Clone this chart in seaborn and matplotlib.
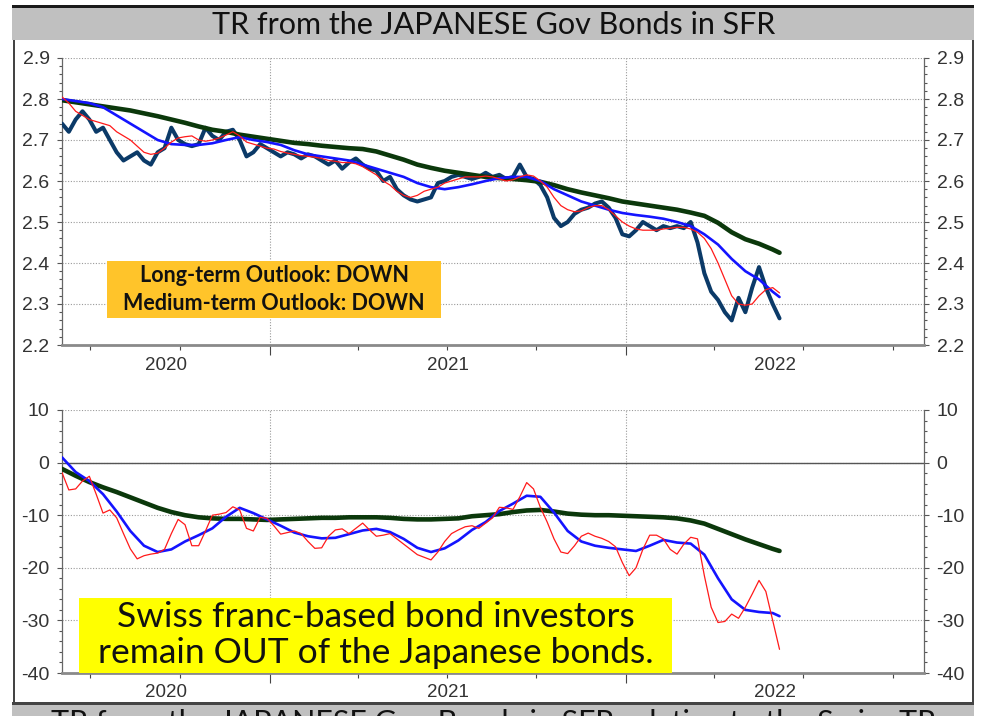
import matplotlib
matplotlib.use("Agg")
import matplotlib.pyplot as plt
import matplotlib.dates as mdates
from matplotlib.ticker import MultipleLocator, FormatStrFormatter, NullFormatter
from matplotlib.patches import Rectangle
import pandas as pd
import seaborn as sns

# ---------------------------------------------------------------- data
# weekly observation dates; the smoothed lines are sampled every second week
week_dates = pd.date_range("2020-06-02", periods=106, freq="7D")
smooth_idx = list(range(0, 106, 2)) + [105]
smooth_dates = week_dates[smooth_idx]

# total-return index of Japanese government bonds in CHF
tr_price = [
    2.74, 2.72, 2.75, 2.77, 2.75, 2.72, 2.73, 2.70, 2.67, 2.65,
    2.66, 2.67, 2.65, 2.64, 2.67, 2.68, 2.73, 2.70, 2.69, 2.685,
    2.69, 2.73, 2.71, 2.70, 2.72, 2.725, 2.70, 2.66, 2.67, 2.69,
    2.68, 2.67, 2.66, 2.67, 2.665, 2.655, 2.665, 2.66, 2.65, 2.64,
    2.65, 2.63, 2.645, 2.655, 2.64, 2.63, 2.625, 2.60, 2.61, 2.58,
    2.565, 2.555, 2.55, 2.555, 2.56, 2.595, 2.60, 2.61, 2.615, 2.61,
    2.605, 2.61, 2.62, 2.61, 2.615, 2.605, 2.61, 2.64, 2.61, 2.605,
    2.59, 2.56, 2.51, 2.49, 2.50, 2.52, 2.53, 2.535, 2.545, 2.55,
    2.535, 2.51, 2.47, 2.465, 2.48, 2.50, 2.49, 2.48, 2.49, 2.485,
    2.49, 2.485, 2.50, 2.45, 2.375, 2.33, 2.31, 2.28, 2.26, 2.315,
    2.28, 2.34, 2.39, 2.34, 2.30, 2.265,
]
tr_ma_short = [
    2.805, 2.79, 2.77, 2.76, 2.75, 2.745, 2.74, 2.735, 2.72, 2.71,
    2.70, 2.685, 2.67, 2.665, 2.668, 2.68, 2.695, 2.705, 2.708, 2.71,
    2.70, 2.697, 2.70, 2.705, 2.712, 2.72, 2.71, 2.695, 2.69, 2.685,
    2.68, 2.678, 2.672, 2.668, 2.665, 2.662, 2.66, 2.658, 2.655, 2.65,
    2.648, 2.645, 2.645, 2.642, 2.635, 2.625, 2.615, 2.60, 2.59, 2.575,
    2.565, 2.56, 2.565, 2.575, 2.58, 2.585, 2.595, 2.60, 2.605, 2.61,
    2.61, 2.61, 2.612, 2.61, 2.605, 2.60, 2.603, 2.61, 2.615, 2.612,
    2.60, 2.585, 2.56, 2.54, 2.53, 2.525, 2.527, 2.535, 2.54, 2.54,
    2.53, 2.515, 2.50, 2.49, 2.483, 2.48, 2.48, 2.48, 2.483, 2.485,
    2.487, 2.487, 2.483, 2.475, 2.46, 2.435, 2.40, 2.36, 2.32, 2.30,
    2.297, 2.30, 2.32, 2.335, 2.34, 2.327,
]
tr_ma_mid = [
    2.80, 2.795, 2.79, 2.78, 2.76, 2.74, 2.72, 2.70, 2.69, 2.688,
    2.688, 2.692, 2.70, 2.707, 2.70, 2.695, 2.688, 2.675, 2.665, 2.66,
    2.655, 2.65, 2.64, 2.63, 2.62, 2.61, 2.595, 2.585, 2.58, 2.585,
    2.592, 2.60, 2.607, 2.61, 2.61, 2.60, 2.58, 2.565, 2.55, 2.54,
    2.53, 2.522, 2.517, 2.513, 2.508, 2.50, 2.49, 2.47, 2.445, 2.41,
    2.38, 2.36, 2.33, 2.317,
]
tr_ma_long = [
    2.797, 2.792, 2.787, 2.782, 2.777, 2.772, 2.765, 2.758, 2.75, 2.742,
    2.733, 2.725, 2.72, 2.713, 2.708, 2.703, 2.698, 2.693, 2.69, 2.686,
    2.683, 2.68, 2.678, 2.672, 2.662, 2.652, 2.64, 2.632, 2.625, 2.62,
    2.615, 2.61, 2.607, 2.605, 2.602, 2.598, 2.59, 2.58, 2.572, 2.565,
    2.558, 2.55, 2.545, 2.54, 2.535, 2.53, 2.523, 2.515, 2.498, 2.475,
    2.458, 2.447, 2.433, 2.425,
]

# relative strength versus the Swiss bond total return
rel_short = [
    -1.9, -5.2, -5.0, -3.5, -2.6, -6.0, -9.6, -9.0, -10.5, -13.5,
    -16.4, -18.3, -17.7, -17.4, -17.2, -16.5, -13.5, -10.8, -11.8, -15.8,
    -15.8, -13.0, -10.0, -9.8, -9.5, -8.4, -9.0, -12.5, -13.0, -10.4,
    -10.6, -12.0, -13.6, -13.3, -13.0, -13.5, -15.0, -16.3, -16.2, -14.0,
    -12.8, -12.6, -13.5, -12.5, -11.5, -12.8, -14.0, -13.8, -13.5, -14.5,
    -15.5, -16.5, -17.5, -18.0, -18.5, -17.0, -15.0, -13.5, -12.8, -12.2,
    -12.0, -12.5, -11.5, -10.5, -8.5, -8.6, -8.9, -6.5, -3.8, -5.0,
    -8.5, -11.3, -14.5, -17.0, -17.3, -15.8, -14.0, -13.4, -14.0, -14.4,
    -15.0, -16.0, -19.0, -21.5, -20.0, -16.5, -13.8, -13.8, -14.5, -16.5,
    -17.4, -15.5, -14.2, -14.5, -21.5, -27.5, -30.4, -30.2, -28.8, -29.6,
    -27.5, -25.0, -22.4, -24.5, -30.0, -35.5,
]
rel_mid = [
    1.0, -1.8, -3.5, -6.0, -9.3, -13.0, -15.8, -17.0, -16.5, -15.0,
    -13.8, -12.5, -10.3, -8.6, -9.6, -10.8, -12.0, -13.3, -14.0, -14.4,
    -14.3, -13.6, -12.9, -12.6, -13.2, -14.5, -16.2, -17.0, -16.3, -14.8,
    -12.8, -11.3, -9.2, -7.8, -6.3, -6.5, -9.5, -13.0, -15.0, -15.8,
    -16.2, -16.5, -16.8, -15.8, -14.7, -15.2, -15.4, -17.5, -22.0, -26.0,
    -28.0, -28.4, -28.6, -29.2,
]
rel_long = [
    -1.2, -2.5, -3.7, -4.7, -5.6, -6.6, -7.6, -8.6, -9.4, -10.0,
    -10.4, -10.6, -10.7, -10.7, -10.8, -10.9, -10.8, -10.7, -10.6, -10.5,
    -10.5, -10.4, -10.4, -10.4, -10.5, -10.7, -10.8, -10.8, -10.7, -10.6,
    -10.2, -10.0, -9.8, -9.4, -9.1, -9.0, -9.3, -9.7, -9.9, -10.0,
    -10.0, -10.1, -10.2, -10.3, -10.4, -10.6, -11.0, -11.6, -12.6, -13.6,
    -14.6, -15.5, -16.4, -16.8,
]

title_top = "TR from the JAPANESE Gov Bonds in SFR"
title_bottom = "TR from the JAPANESE Gov Bonds in SFR relative to the Swiss TR"
outlook_text = "Long-term Outlook: DOWN\nMedium-term Outlook: DOWN"
verdict_text = "Swiss franc-based bond investors\nremain OUT of the Japanese bonds."
year_labels = [2020, 2021, 2022]

x_start = pd.Timestamp("2020-06-02")
x_end = pd.Timestamp("2022-11-02")

# ---------------------------------------------------------------- style
sns.set_style("white")
plt.rcParams["font.family"] = ["Liberation Sans", "DejaVu Sans"]
plt.rcParams["axes.unicode_minus"] = False

NAVY = "#0b3a68"
RED = "#ff1a1a"
BLUE = "#1414ff"
GREEN = "#0b380b"
TICK_GREY = "#333333"

W, H = 982, 716
fig = plt.figure(figsize=(W / 100, H / 100), dpi=100)
fig.patch.set_facecolor("white")


def fx(px):
    return px / W


def fy(py):
    return 1 - py / H


ax1 = fig.add_axes([fx(62), fy(345), fx(924) - fx(62), fy(58) - fy(345)])
ax2 = fig.add_axes([fx(62), fy(673), fx(924) - fx(62), fy(410) - fy(673)])

# upper panel: index with three moving averages
top = pd.DataFrame({"date": week_dates, "price": tr_price, "short": tr_ma_short})
top_s = pd.DataFrame({"date": smooth_dates, "mid": tr_ma_mid, "long": tr_ma_long})
sns.lineplot(data=top, x="date", y="price", ax=ax1, color=NAVY, lw=2.9, zorder=3)
sns.lineplot(data=top_s, x="date", y="long", ax=ax1, color=GREEN, lw=3.3, zorder=4)
sns.lineplot(data=top_s, x="date", y="mid", ax=ax1, color=BLUE, lw=1.9, zorder=5)
sns.lineplot(data=top, x="date", y="short", ax=ax1, color=RED, lw=0.9, zorder=6)

# lower panel: relative strength lines
bot = pd.DataFrame({"date": week_dates, "short": rel_short})
bot_s = pd.DataFrame({"date": smooth_dates, "mid": rel_mid, "long": rel_long})
ax2.axhline(0, color="#555555", lw=1.0, zorder=2)
sns.lineplot(data=bot_s, x="date", y="long", ax=ax2, color=GREEN, lw=3.3, zorder=4)
sns.lineplot(data=bot_s, x="date", y="mid", ax=ax2, color=BLUE, lw=1.9, zorder=5)
sns.lineplot(data=bot, x="date", y="short", ax=ax2, color=RED, lw=0.9, zorder=6)


def style_axis(ax, ymin, ymax, major, minor, fmt, label_offset):
    ax.set_xlim(x_start, x_end)
    ax.set_ylim(ymin, ymax)
    ax.set_xlabel("")
    ax.set_ylabel("")
    ax.yaxis.set_major_locator(MultipleLocator(major))
    ax.yaxis.set_minor_locator(MultipleLocator(minor))
    ax.yaxis.set_major_formatter(FormatStrFormatter(fmt))
    ax.xaxis.set_major_locator(mdates.YearLocator())
    ax.xaxis.set_minor_locator(mdates.MonthLocator(bymonth=[4, 7, 10]))
    ax.xaxis.set_major_formatter(NullFormatter())
    ax.tick_params(axis="y", which="both", left=True, right=True,
                   labelleft=True, labelright=True, direction="out",
                   colors="#555555", labelcolor=TICK_GREY, labelsize=14)
    ax.tick_params(axis="y", which="major", length=3.5, width=0.8, pad=5.5)
    ax.tick_params(axis="y", which="minor", length=2.2, width=0.8)
    ax.tick_params(axis="x", which="both", bottom=True, top=False,
                   direction="out", colors="#444444")
    ax.tick_params(axis="x", which="major", length=7, width=0.8)
    ax.tick_params(axis="x", which="minor", length=3.5, width=0.8)
    ax.grid(True, which="major", axis="both", linestyle=(0, (1, 1.5)),
            color="#9a9a9a", lw=0.8)
    ax.set_axisbelow(True)
    for side in ("left", "right"):
        ax.spines[side].set_color("#666666")
        ax.spines[side].set_linewidth(0.9)
    ax.spines["bottom"].set_color("#8a8a8a")
    ax.spines["bottom"].set_linewidth(2.0)
    ax.spines["top"].set_visible(False)
    # year names centred on the visible part of each calendar year
    for yr in year_labels:
        a = max(x_start, pd.Timestamp(f"{yr}-01-01"))
        b = min(x_end, pd.Timestamp(f"{yr + 1}-01-01"))
        mid = a + (b - a) / 2
        ax.annotate(str(yr), xy=(mid, 0), xycoords=("data", "axes fraction"),
                    xytext=(0, label_offset), textcoords="offset points",
                    ha="center", va="center", fontsize=13.5, color=TICK_GREY)


style_axis(ax1, 2.2, 2.9, 0.1, 0.02, "%.1f", -14.5)
style_axis(ax2, -40, 10, 10, 2, "%d", -14)

# ---------------------------------------------------------------- frame
def fig_rect(x0, y0, x1, y1, color, z=1):
    fig.add_artist(Rectangle((fx(x0), fy(y1)), fx(x1) - fx(x0), fy(y0) - fy(y1),
                             transform=fig.transFigure, facecolor=color,
                             edgecolor="none", zorder=z))


fig_rect(12, 5.5, 974, 8.5, "#1a1a1a")        # top rule
fig_rect(12, 8.5, 974, 40, "#c0c0c0")         # title band
fig_rect(12.5, 40, 14.5, 703, "#444444")      # left border
fig_rect(972, 40, 974, 703, "#444444")        # right border
fig_rect(12, 702, 974, 705, "#444444")        # lower rule
fig_rect(12, 705, 974, 716, "#c0c0c0")        # next chart's title band

fig.text(fx(494), fy(25), title_top, ha="center", va="center",
         fontsize=22, family=["Lato", "DejaVu Sans"], color="#111111")
# the next chart's heading continues below the bottom edge
fig.text(fx(494), fy(708.5), title_bottom, ha="center", va="top",
         fontsize=22, family=["Lato", "DejaVu Sans"], color="#111111")

# outlook box in the upper panel
fig_rect(107, 261, 441, 318, "#ffc42a", z=5)
fig.text(fx(274), fy(289.5), outlook_text, ha="center", va="center",
         fontsize=15.5, fontweight="bold", linespacing=1.4,
         family=["Lato", "DejaVu Sans"], color="#111111", zorder=6)

# verdict box in the lower panel
fig_rect(79, 598, 672, 673, "#ffff00", z=5)
fig.text(fx(375.5), fy(635), verdict_text, ha="center", va="center",
         fontsize=25.5, linespacing=1.12,
         family=["Lato", "DejaVu Sans"], color="#111111", zorder=6)

fig.savefig("out.png", dpi=100)
